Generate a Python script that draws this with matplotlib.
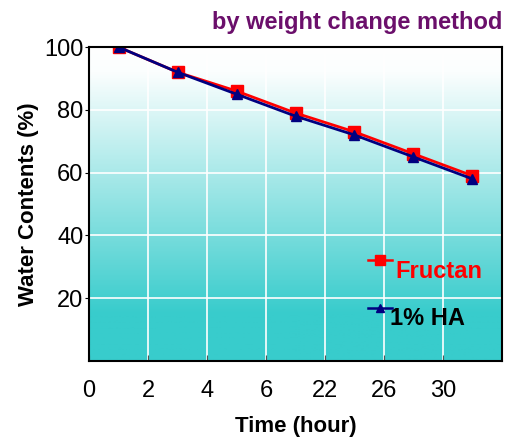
import matplotlib
matplotlib.use("Agg")
import matplotlib.pyplot as plt
import numpy as np
from matplotlib.colors import LinearSegmentedColormap

plt.rcParams["font.family"] = ["Liberation Sans", "DejaVu Sans"]

# x positions are evenly spaced categories; labels are the hour values shown
tick_labels = ["0", "2", "4", "6", "22", "26", "30"]
sample_pos = [0.5, 1.5, 2.5, 3.5, 4.5, 5.5, 6.5]
fructan = [100, 92, 86, 79, 73, 66, 59]
ha = [100, 92, 85, 78, 72, 65, 58]


def main():
    fig = plt.figure(figsize=(5.06, 4.40), dpi=100)
    ax = fig.add_axes([0.176, 0.1795, 0.816, 0.7135])

    # vertical white -> teal gradient background (flat white on top, flat teal at bottom)
    cmap = LinearSegmentedColormap.from_list(
        "bg", [(0.0, "#ffffff"), (0.08, "#fbfefe"), (0.85, "#38cccc"), (1.0, "#38cccc")])
    grad = np.linspace(0, 1, 256).reshape(-1, 1)
    ax.imshow(grad, cmap=cmap, aspect="auto", extent=[0, 1, 0, 1],
              transform=ax.transAxes, zorder=0, origin="upper")

    ax.plot(sample_pos, fructan, color="red", lw=2, marker="s", ms=8,
            mec="red", mfc="red", label="Fructan", zorder=3)
    ax.plot(sample_pos, ha, color="#000080", lw=2, marker="^", ms=7.5,
            mec="#000080", mfc="#000080", label="1% HA", zorder=4)

    ax.set_xlim(0, 7)
    ax.set_ylim(0, 100)
    ax.set_xticks(range(len(tick_labels)))
    ax.set_xticklabels(tick_labels)
    ax.set_yticks([20, 40, 60, 80, 100])
    ax.grid(True, color="white", lw=1.2, zorder=1)
    ax.set_axisbelow(False)

    ax.tick_params(axis="x", direction="in", length=4, color="#555555",
                   labelsize=17, pad=14)
    ax.tick_params(axis="y", direction="out", length=3, labelsize=17, pad=1)
    for s in ax.spines.values():
        s.set_linewidth(1.5)
        s.set_zorder(5)

    ax.set_xlabel("Time (hour)", fontsize=16, fontweight="bold", labelpad=10)
    ax.set_ylabel("Water Contents (%)", fontsize=16, fontweight="bold", labelpad=4)
    fig.text(0.992, 0.95, "by weight change method", ha="right", va="center",
             fontsize=17, fontweight="bold", color="#6b0f6b")

    # legend: short line through marker, label sits a bit lower than the marker
    leg = ax.legend(loc="upper left", bbox_to_anchor=(0.623, 0.42), frameon=False,
                    prop={"size": 17, "weight": "bold"}, handlelength=1.05,
                    handletextpad=0.15, labelspacing=1.05, markerscale=0.85,
                    labelcolor=["red", "black"])
    for line in leg.get_lines():
        line.set_linewidth(1.8)
    txts = leg.get_texts()
    txts[0].set_y(-10)
    txts[1].set_y(-9)
    txts[1].set_x(-6)
    leg.set_zorder(6)

    fig.savefig("out.png", dpi=100)
    plt.close(fig)


if __name__ == "__main__":
    main()
